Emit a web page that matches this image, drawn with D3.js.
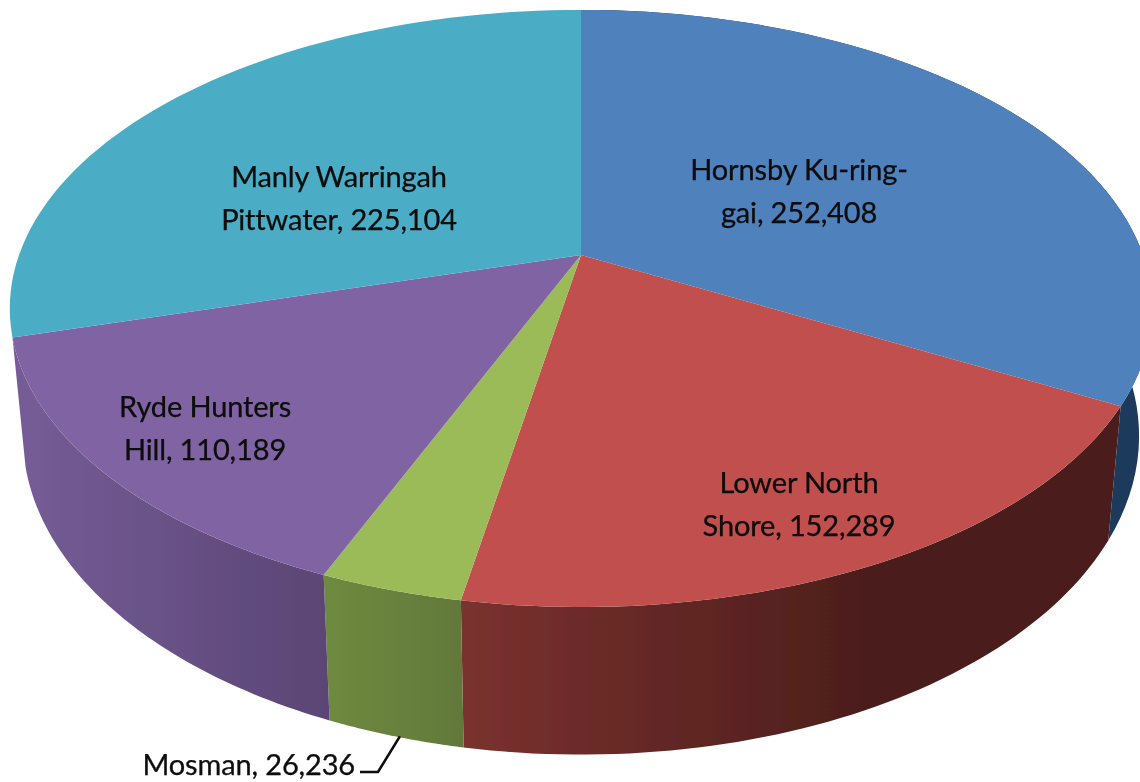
<!DOCTYPE html>
<html>
<head>
<meta charset="utf-8">
<script src="https://cdn.jsdelivr.net/npm/d3@7"></script>
<style>
html,body{margin:0;padding:0;background:#fff;overflow:hidden}
svg{display:block}
text{font-family:Lato,"Open Sans",sans-serif;fill:#0a0a0a;stroke:#0a0a0a;stroke-width:0.25;letter-spacing:-0.15px}
</style>
</head>
<body>
<svg id="c" width="1140" height="782"></svg>
<script>
const categories = ["Hornsby Ku-ring-gai","Lower North Shore","Mosman","Ryde Hunters Hill","Manly Warringah Pittwater"];
const values = [252408,152289,26236,110189,225104];
const topColors = ["#4f81bd","#c0504d","#9bbb59","#8064a2","#4bacc6"];
const wallStart = ["#1f3a5c","#7a312f","#6e8a3f","#755c96","#2e7187"];
const wallEnd   = ["#1f3a5c","#4c1e1c","#62783a","#5a4574","#2e7187"];
const labelLines = [["Hornsby Ku-ring-","gai, 252,408"],["Lower North","Shore, 152,289"],["Mosman, 26,236"],["Ryde Hunters","Hill, 110,189"],["Manly Warringah","Pittwater, 225,104"]];
const labelAt = [[799,180],[799,493],[355,775],[205,417],[339,187]];
const hiddenWall = "Manly Warringah Pittwater";

const W=1140,H=782, cx=581, cy=255, R=562, S=289, k=-0.179, sideX=0.977, sideY=1.067, sideCy=379;
const svg=d3.select("#c");
const soft=svg.append("defs").append("filter").attr("id","soft");
soft.append("feGaussianBlur").attr("stdDeviation",0.4);
const root=svg.append("g").attr("filter","url(#soft)");
const pie=d3.pie().sort(null).value(d=>d)(values);
const project=(a,r=1)=>{const u=r*Math.sin(a),v=-r*Math.cos(a),w=1+k*v;return [cx+R*u/w,cy+S*v/w];};
const lower=p=>[cx+sideX*(p[0]-cx),sideCy+sideY*(p[1]-cy)];
const rim=(a0,a1)=>d3.range(0,61).map(i=>project(a0+(a1-a0)*i/60));
const line=d3.line();
const defs=svg.select("defs");

pie.forEach((s,i)=>{
  const xs=rim(s.startAngle,s.endAngle).map(lower).map(p=>p[0]);
  const g=defs.append("linearGradient").attr("id","w"+i).attr("gradientUnits","userSpaceOnUse")
    .attr("x1",i===0||i===1?d3.min(xs):d3.min(xs)).attr("x2",d3.max(xs)).attr("y1",0).attr("y2",0);
  g.append("stop").attr("offset",0).attr("stop-color",wallStart[i]);
  g.append("stop").attr("offset",i===1?0.62:1).attr("stop-color",wallEnd[i]);
});

// walls first, then the top faces over them
root.append("g").selectAll("path").data(pie.filter(s=>categories[s.index]!==hiddenWall)).join("path")
  .attr("d",s=>{const t=rim(s.startAngle,s.endAngle);return line(t.concat(t.map(lower).reverse()))+"Z";})
  .attr("fill",s=>`url(#w${s.index})`);

root.append("g").selectAll("path").data(pie).join("path")
  .attr("d",s=>line([[cx,cy]].concat(rim(s.startAngle,s.endAngle)))+"Z")
  .attr("fill",(s,i)=>topColors[i]);

// Mosman leader
const mosmanMid=(pie[2].startAngle+pie[2].endAngle)/2;
const lp=lower(project(mosmanMid));
root.append("path").attr("fill","none").attr("stroke","#111").attr("stroke-width",2.6)
  .attr("d",line([[lp[0]+5,lp[1]],[378,772],[360,772]]));

labelLines.forEach((ls,i)=>{
  const t=root.append("text").attr("text-anchor",i===2?"end":"middle").attr("font-size",29);
  ls.forEach((l,j)=>t.append("tspan").attr("x",labelAt[i][0]).attr("y",labelAt[i][1]+j*42.5).text(l));
});
</script>
</body>
</html>
